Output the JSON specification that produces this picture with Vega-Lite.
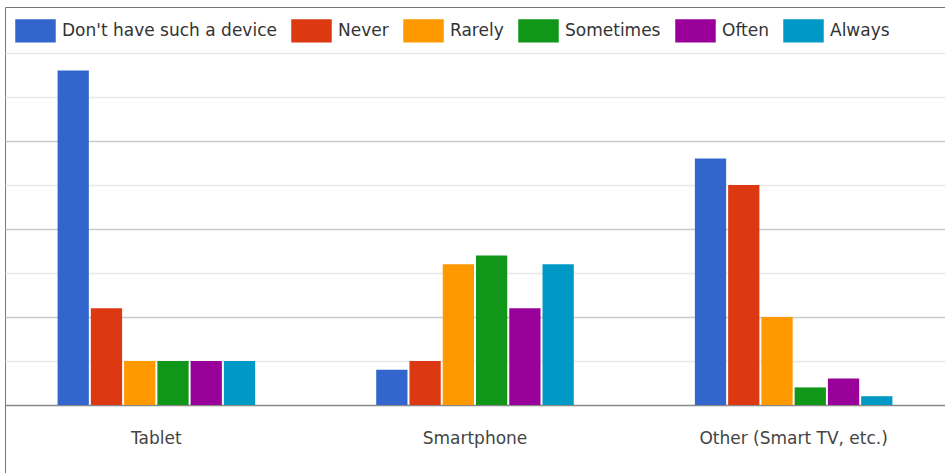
{
  "$schema": "https://vega.github.io/schema/vega-lite/v6.json",
  "autosize": {"type": "none"},
  "padding": {"left": 5, "top": 7, "right": 0, "bottom": 0},
  "width": 940,
  "height": 466,
  "background": "white",
  "config": {
    "view": {"stroke": "#777777", "strokeWidth": 1},
    "font": "DejaVu Sans"
  },
  "data": {
    "values": [
      {"device": "Tablet", "frequency": "Don't have such a device", "count": 38},
      {"device": "Tablet", "frequency": "Never", "count": 11},
      {"device": "Tablet", "frequency": "Rarely", "count": 5},
      {"device": "Tablet", "frequency": "Sometimes", "count": 5},
      {"device": "Tablet", "frequency": "Often", "count": 5},
      {"device": "Tablet", "frequency": "Always", "count": 5},
      {"device": "Smartphone", "frequency": "Don't have such a device", "count": 4},
      {"device": "Smartphone", "frequency": "Never", "count": 5},
      {"device": "Smartphone", "frequency": "Rarely", "count": 16},
      {"device": "Smartphone", "frequency": "Sometimes", "count": 17},
      {"device": "Smartphone", "frequency": "Often", "count": 11},
      {"device": "Smartphone", "frequency": "Always", "count": 16},
      {"device": "Other (Smart TV, etc.)", "frequency": "Don't have such a device", "count": 28},
      {"device": "Other (Smart TV, etc.)", "frequency": "Never", "count": 25},
      {"device": "Other (Smart TV, etc.)", "frequency": "Rarely", "count": 10},
      {"device": "Other (Smart TV, etc.)", "frequency": "Sometimes", "count": 2},
      {"device": "Other (Smart TV, etc.)", "frequency": "Often", "count": 3},
      {"device": "Other (Smart TV, etc.)", "frequency": "Always", "count": 1}
    ]
  },
  "mark": {"type": "bar"},
  "encoding": {
    "x": {
      "field": "device",
      "type": "nominal",
      "sort": ["Tablet", "Smartphone", "Other (Smart TV, etc.)"],
      "scale": {"paddingInner": 0.38, "paddingOuter": 0.165},
      "axis": {
        "title": null,
        "orient": "bottom",
        "offset": -68,
        "labelAngle": 0,
        "ticks": false,
        "domain": true,
        "domainColor": "#888888",
        "domainWidth": 1.5,
        "labelPadding": 25,
        "labelFontSize": 17,
        "labelColor": "#444444",
        "labelFont": "DejaVu Sans",
        "labelLimit": 400,
        "grid": false
      }
    },
    "xOffset": {
      "field": "frequency",
      "type": "nominal",
      "sort": ["Don't have such a device", "Never", "Rarely", "Sometimes", "Often", "Always"],
      "scale": {"paddingInner": 0.06, "paddingOuter": 0}
    },
    "y": {
      "field": "count",
      "type": "quantitative",
      "scale": {"domain": [-7.727, 45.227], "nice": false, "zero": false},
      "axis": {
        "title": null,
        "domain": false,
        "labels": false,
        "ticks": false,
        "grid": true,
        "values": [5, 10, 15, 20, 25, 30, 35, 40],
        "gridColor": {
          "condition": {"test": "datum.value === 10 || datum.value === 20 || datum.value === 30", "value": "#cccccc"},
          "value": "#e8e8e8"
        },
        "gridWidth": 1.5
      }
    },
    "y2": {"datum": 0},
    "color": {
      "field": "frequency",
      "type": "nominal",
      "sort": ["Don't have such a device", "Never", "Rarely", "Sometimes", "Often", "Always"],
      "scale": {
        "domain": ["Don't have such a device", "Never", "Rarely", "Sometimes", "Often", "Always"],
        "range": ["#3366cc", "#dc3912", "#ff9900", "#109618", "#990099", "#0099c6"]
      },
      "legend": {
        "title": null,
        "orient": "none",
        "legendX": 10,
        "legendY": 3,
        "direction": "horizontal",
        "columns": 6,
        "columnPadding": 14,
        "symbolType": "M-1,-0.575H1V0.575H-1Z",
        "symbolSize": 1640,
        "symbolStrokeWidth": 0,
        "symbolOpacity": 1,
        "labelFontSize": 17,
        "labelFont": "DejaVu Sans",
        "labelColor": "#333333",
        "labelOffset": 6,
        "labelLimit": 400
      }
    }
  }
}
